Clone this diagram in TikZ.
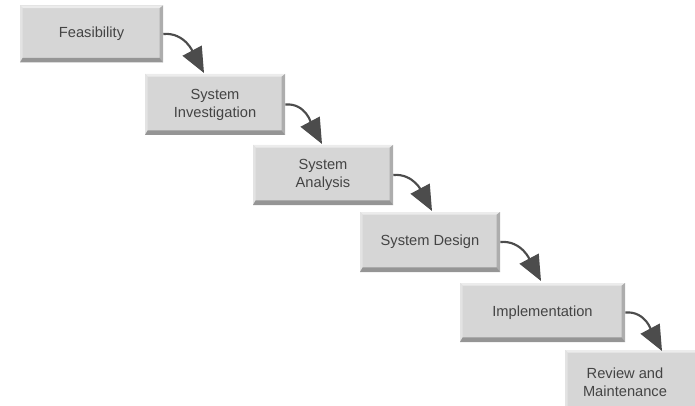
\documentclass[tikz,border=0pt]{standalone}
\usepackage{fontspec}
\setmainfont{Liberation Sans}
\usetikzlibrary{arrows.meta}

\definecolor{boxfill}{HTML}{D6D6D6}
\definecolor{bevtop}{HTML}{ECECEC}
\definecolor{bevleft}{HTML}{E3E3E3}
\definecolor{bevright}{HTML}{ADADAD}
\definecolor{bevbottom}{HTML}{959595}
\definecolor{labelgray}{HTML}{444444}
\definecolor{arrowgray}{HTML}{4C4C4C}

\tikzset{
  stage/.style={
    fill=boxfill, inner sep=2pt, align=center,
    font=\fontsize{11}{13.5}\selectfont, text=labelgray,
    path picture={
      \path (path picture bounding box.south west) coordinate (bsw)
            (path picture bounding box.north east) coordinate (bne);
      \path (bsw |- bne) coordinate (bnw) (bne |- bsw) coordinate (bse);
      % raised bevel: light top/left, dark right/bottom
      \fill[bevtop] (bnw) -- (bne) -- ([shift={(-2pt,-2pt)}]bne)
        -- ([shift={(2pt,-2pt)}]bnw) -- cycle;
      \fill[bevleft] (bnw) -- ([shift={(2pt,-2pt)}]bnw)
        -- ([shift={(2pt,3.5pt)}]bsw) -- (bsw) -- cycle;
      \fill[bevright] (bne) -- (bse) -- ([shift={(-2.5pt,3.5pt)}]bse)
        -- ([shift={(-2.5pt,-2pt)}]bne) -- cycle;
      \fill[bevbottom] (bsw) -- ([shift={(2pt,3.5pt)}]bsw)
        -- ([shift={(-2.5pt,3.5pt)}]bse) -- (bse) -- cycle;
    }},
  conn/.style={draw=arrowgray, line width=1.6pt,
    -{Triangle[length=19pt,width=16pt]}}
}

\begin{document}
\begin{tikzpicture}[x=0.75pt, y=-0.75pt]
  \useasboundingbox (0,0) rectangle (695,406);
  \clip (0,0) rectangle (695,406);

  % waterfall stages
  \node[stage, minimum width=107.25pt, minimum height=42.75pt]
    (n1) at (91.5,34) {Feasibility};
  \node[stage, minimum width=105pt, minimum height=45.75pt]
    (n2) at (215,104.5) {System\\Investigation};
  \node[stage, minimum width=105pt, minimum height=45pt]
    (n3) at (323,175) {System\\Analysis};
  \node[stage, minimum width=105pt, minimum height=45pt]
    (n4) at (430,242) {System Design};
  \node[stage, minimum width=123.75pt, minimum height=44.25pt]
    (n5) at (542.5,312.5) {Implementation};
  \node[stage, minimum width=105pt, minimum height=48pt,
    label={[font=\fontsize{11}{13.5}\selectfont, text=labelgray,
            align=center, xshift=-7.5pt]center:{Review and\\Maintenance}}]
    (n6) at (635,382) {};

  % arrow tips resting on the next stage
  \coordinate (t1) at (204,73);
  \coordinate (t2) at (322,144);
  \coordinate (t3) at (432,211);
  \coordinate (t4) at (541,281);
  \coordinate (t5) at (662,351);

  \draw[conn] (n1.east) to[out=5, in=118] (t1);
  \draw[conn] (n2.east) to[out=5, in=118] (t2);
  \draw[conn] (n3.east) to[out=5, in=118] (t3);
  \draw[conn] (n4.east) to[out=5, in=118] (t4);
  \draw[conn] (n5.east) to[out=5, in=118] (t5);
\end{tikzpicture}
\end{document}
